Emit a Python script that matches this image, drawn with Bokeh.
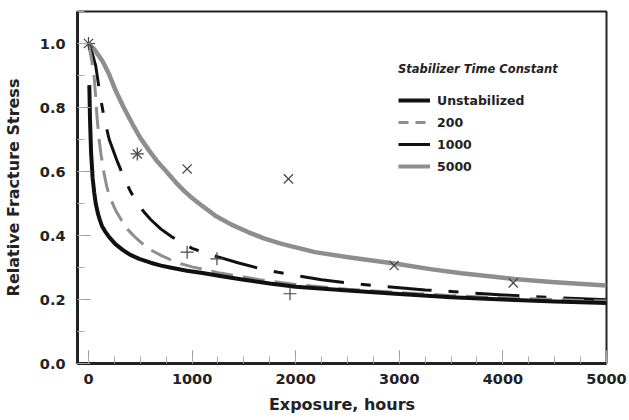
from bokeh.plotting import figure
from bokeh.models import Range1d, SingleIntervalTicker, PrintfTickFormatter, Legend, LegendItem
from bokeh.embed import file_html
from bokeh.resources import INLINE

# ---- data ----
unstab_t = [8, 15, 25, 40, 55, 70, 90, 110, 130, 160, 200, 260, 330, 400, 490, 600, 700, 800, 950,
            1100, 1300, 1500, 1750, 2000, 2500, 3000, 3500, 4000, 4500, 5000]
unstab_v = [0.87, 0.76, 0.66, 0.58, 0.535, 0.50, 0.47, 0.448, 0.43, 0.413, 0.395, 0.373, 0.355, 0.34, 0.327,
            0.315, 0.306, 0.299, 0.29, 0.283, 0.272, 0.262, 0.25, 0.24, 0.228, 0.217, 0.207, 0.20, 0.194, 0.189]

s200_t = [0, 30, 55, 70, 85, 103, 120, 150, 175, 200, 260, 320, 375, 440, 500, 600, 700, 800, 900, 1000,
          1250, 1500, 1750, 2000, 2500, 3000, 3500, 4000, 4500, 5000]
s200_v = [1.0, 0.95, 0.895, 0.83, 0.76, 0.70, 0.655, 0.595, 0.555, 0.525, 0.48, 0.447, 0.42, 0.398, 0.38,
          0.355, 0.338, 0.323, 0.311, 0.302, 0.284, 0.27, 0.257, 0.247, 0.232, 0.222, 0.212, 0.205, 0.20, 0.195]

s1000_t = [0, 40, 70, 100, 125, 150, 200, 240, 280, 350, 410, 470, 540, 600, 700, 800, 900, 1000, 1120,
           1250, 1450, 1650, 1830, 2000, 2250, 2500, 2750, 3000, 3250, 3500, 4000, 4500, 5000]
s1000_v = [1.0, 0.965, 0.93, 0.865, 0.815, 0.77, 0.70, 0.665, 0.63, 0.575, 0.535, 0.50, 0.472, 0.45, 0.42,
           0.397, 0.377, 0.36, 0.346, 0.333, 0.314, 0.297, 0.285, 0.275, 0.262, 0.252, 0.244, 0.237, 0.23,
           0.225, 0.214, 0.206, 0.199]

s5000_t = [0, 60, 135, 200, 262, 340, 423, 500, 584, 660, 743, 840, 930, 1000, 1080, 1224, 1380, 1545,
           1700, 1865, 2186, 2507, 2827, 3000, 3300, 3600, 4106, 4500, 5000]
s5000_v = [1.0, 0.98, 0.945, 0.903, 0.853, 0.80, 0.749, 0.705, 0.666, 0.633, 0.603, 0.567, 0.537, 0.517,
           0.497, 0.462, 0.434, 0.41, 0.39, 0.374, 0.348, 0.332, 0.318, 0.31, 0.295, 0.282, 0.264, 0.254, 0.244]

x_pts_t = [0, 471, 952, 1930, 2950, 4100]
x_pts_v = [1.0, 0.655, 0.608, 0.577, 0.306, 0.252]
plus_pts_t = [0, 471, 952, 1240, 1945]
plus_pts_v = [1.0, 0.655, 0.348, 0.327, 0.218]

series_names = ["Unstabilized", "200", "1000", "5000"]
legend_title = "Stabilizer Time Constant"
x_label = "Exposure, hours"
y_label = "Relative Fracture Stress"

BLACK = "#111111"
GRAY = "#8e8e8e"
FONT = "DejaVu Sans"

p = figure(width=629, height=420, output_backend="svg", toolbar_location=None,
           x_range=Range1d(-106, 5000), y_range=Range1d(0, 1.1),
           min_border_left=75, min_border_right=23, min_border_top=11, min_border_bottom=57,
           background_fill_color="white", border_fill_color="white")

p.xgrid.visible = False
p.ygrid.visible = False
p.outline_line_color = "#222222"
p.outline_line_width = 2
p.outline_line_alpha = 1

p.xaxis.ticker = SingleIntervalTicker(interval=1000, num_minor_ticks=4)
p.yaxis.ticker = SingleIntervalTicker(interval=0.2, num_minor_ticks=2)
p.yaxis.formatter = PrintfTickFormatter(format="%.1f")

for ax in (p.xaxis[0], p.yaxis[0]):
    ax.axis_line_color = "#222222"
    ax.axis_line_width = 3
    ax.major_tick_in = 13
    ax.major_tick_out = 0
    ax.minor_tick_in = 7
    ax.minor_tick_out = 0
    ax.major_tick_line_color = "#999999"
    ax.minor_tick_line_color = "#aaaaaa"
    ax.major_tick_line_width = 1
    ax.major_label_text_font = FONT
    ax.major_label_text_font_style = "bold"
    ax.major_label_text_font_size = "14.5px"
    ax.major_label_text_color = "#222222"
    ax.axis_label_text_font = FONT
    ax.axis_label_text_font_style = "bold"
    ax.axis_label_text_font_size = "16px"
    ax.axis_label_text_color = "#222222"

p.xaxis.axis_label = x_label
p.yaxis.axis_label = y_label
p.xaxis.major_label_standoff = 10
p.xaxis.axis_label_standoff = 8
p.yaxis.major_label_standoff = 12
p.yaxis.axis_label_standoff = 14

# curves
p.line(s5000_t, s5000_v, line_color=GRAY, line_width=4.5, line_join="round")
p.line(s1000_t, s1000_v, line_color=BLACK, line_width=3, line_dash="44 17 10 17", line_join="round")
p.line(s200_t, s200_v, line_color=GRAY, line_width=3, line_dash="22 10", line_join="round")
p.line(unstab_t, unstab_v, line_color=BLACK, line_width=4, line_join="round")

# markers
p.scatter(x_pts_t, x_pts_v, marker="x", size=13, line_color="#444444", line_width=1.2)
p.scatter(plus_pts_t, plus_pts_v, marker="cross", size=13, line_color="#444444", line_width=1.2)

# legend: hidden copies of the series carrying the legend glyph styles
r1 = p.line(unstab_t, unstab_v, line_color=BLACK, line_width=4, visible=False)
r2 = p.line(s200_t, s200_v, line_color=GRAY, line_width=3, line_dash="10 7", visible=False)
r3 = p.line(s1000_t, s1000_v, line_color=BLACK, line_width=3, visible=False)
r4 = p.line(s5000_t, s5000_v, line_color=GRAY, line_width=4, visible=False)

legend = Legend(items=[LegendItem(label=n, renderers=[r]) for n, r in zip(series_names, [r1, r2, r3, r4])],
                location=(321, 187), title=legend_title,
                title_text_font=FONT, title_text_font_style="bold italic", title_text_font_size="11.5px",
                title_text_color="#222222", title_standoff=14,
                label_text_font=FONT, label_text_font_style="bold", label_text_font_size="12.5px",
                label_text_color="#222222",
                glyph_width=32, glyph_height=20, label_height=20, label_standoff=7, spacing=2,
                padding=0, margin=0, border_line_color=None, background_fill_alpha=0)
p.add_layout(legend, "center")

open("out.html", "w").write(file_html(p, INLINE))
